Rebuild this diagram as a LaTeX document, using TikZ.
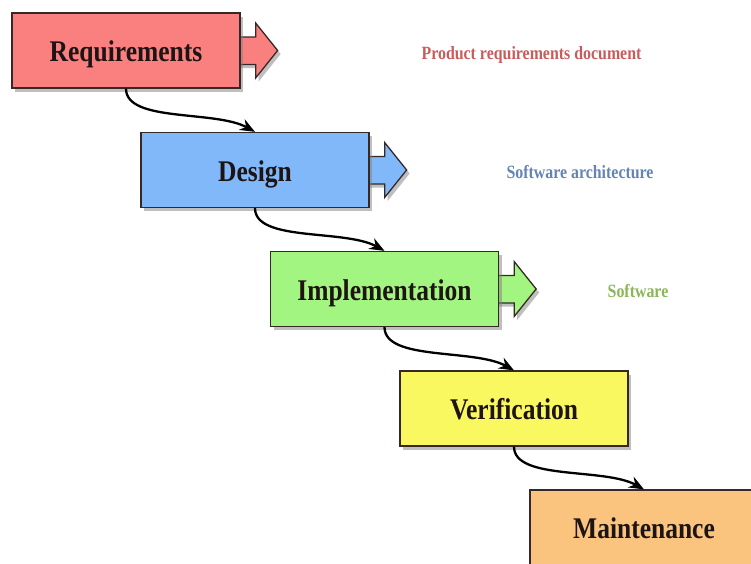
\documentclass[tikz,border=0pt]{standalone}
\usepackage{fontspec}
\setmainfont{Liberation Serif}[FakeStretch=0.85]
\usetikzlibrary{calc,shadows,arrows.meta}
\definecolor{reqfill}{RGB}{250,128,128}
\definecolor{desfill}{RGB}{128,184,250}
\definecolor{impfill}{RGB}{162,245,128}
\definecolor{verfill}{RGB}{250,248,96}
\definecolor{maifill}{RGB}{250,196,126}
\definecolor{boxline}{RGB}{55,40,40}
\definecolor{maintext}{RGB}{30,20,20}
\definecolor{reqlab}{RGB}{200,92,92}
\definecolor{deslab}{RGB}{100,132,182}
\definecolor{implab}{RGB}{138,182,88}
\pgfdeclarelayer{bg}
\pgfsetlayers{bg,main}
\newcommand\fatarrow[2]{%
  \path[fat,fill=#2] ($(#1.east)+(-6,-13.5)$) -- ($(#1.east)+(15,-13.5)$)
    -- ($(#1.east)+(15,-27.5)$) -- ($(#1.east)+(37,0)$)
    -- ($(#1.east)+(15,27.5)$) -- ($(#1.east)+(15,14)$)
    -- ($(#1.east)+(-6,14)$) -- cycle;}
\begin{document}
\begin{tikzpicture}[x=1pt,y=-1pt,
  shad/.style={drop shadow={shadow xshift=3pt,shadow yshift=-3.5pt,opacity=0.5}},
  box/.style={draw=boxline,line width=1.3pt,minimum width=228pt,minimum height=75pt,
    inner sep=0pt,font=\fontsize{30}{36}\selectfont\bfseries,text=maintext,
    text height=22pt,text depth=0pt,shad},
  fat/.style={draw=boxline,line width=1.3pt,shad},
  conn/.style={-{Stealth[length=15pt,width=12pt]},line width=2.3pt,black},
  lab/.style={font=\fontsize{18.7}{22}\selectfont\bfseries,anchor=base,inner sep=0pt}]
\useasboundingbox (0,0) rectangle (751,563);
\clip (0,0) rectangle (751,563);
\node[box,fill=reqfill] (r) at (126,50.5) {Requirements};
\node[box,fill=desfill] (d) at (255,170) {Design};
\node[box,fill=impfill] (i) at (384.5,289) {Implementation};
\node[box,fill=verfill] (v) at (514,408.5) {Verification};
\node[box,fill=maifill] (m) at (644,527.5) {Maintenance};
\begin{pgfonlayer}{bg}
\fatarrow{r}{reqfill}
\fatarrow{d}{desfill}
\fatarrow{i}{impfill}
\end{pgfonlayer}
\draw[conn] (r.south) .. controls +(0,34) and +(-40,-22) .. (d.north);
\draw[conn] (d.south) .. controls +(0,34) and +(-40,-22) .. (i.north);
\draw[conn] (i.south) .. controls +(0,34) and +(-40,-22) .. (v.north);
\draw[conn] (v.south) .. controls +(0,34) and +(-40,-22) .. (m.north);
\node[lab,text=reqlab] (pr) at (531.5,59) {Product requirements document};
\node[lab,text=deslab] (sa) at (580,178) {Software architecture};
\node[lab,text=implab] (sw) at (638,297) {Software};
\end{tikzpicture}
\end{document}
